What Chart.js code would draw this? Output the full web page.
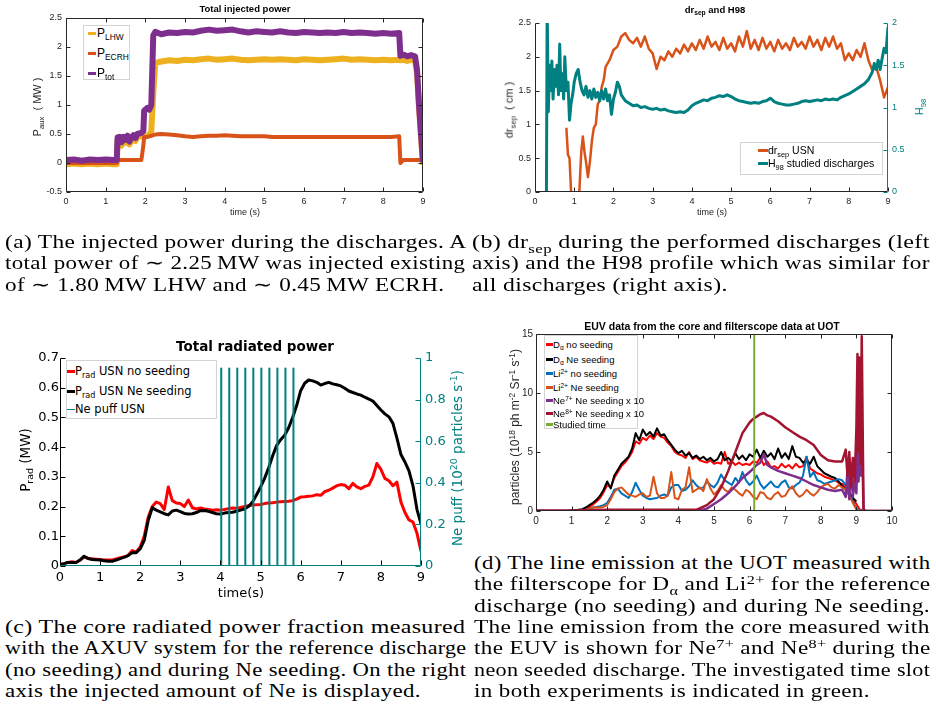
<!DOCTYPE html>
<html lang="en">
<head>
<meta charset="UTF-8">
<title>Discharge overview</title>
<script src="https://cdn.jsdelivr.net/npm/chart.js"></script>
<style>
  html, body { margin: 0; padding: 0; background: #fff; }
  #fig { position: relative; width: 936px; height: 709px; overflow: hidden; font-family: "Liberation Sans", Arial, sans-serif; color: #262626; }
  .pane { position: absolute; }
  .lbl { position: absolute; white-space: nowrap; transform: translate(-50%, -50%); line-height: 1.15; }
  .rot { transform: translate(-50%, -50%) rotate(-90deg); }
  sub, sup { font-size: 70%; line-height: 0; position: relative; vertical-align: baseline; }
  sub { top: 0.35em; }
  sup { top: -0.5em; }
  .legbox { position: absolute; border: 1px solid #d4d4d4; background: #fff; box-sizing: border-box; }
  .legrow { position: absolute; white-space: nowrap; line-height: 1.15; transform: translateY(-50%); color: #000; }
  .legline { position: absolute; }
  .cap { position: absolute; font-family: "Liberation Serif", "Times New Roman", serif; font-size: 19px; letter-spacing: 0.3px; color: #000; }
  .cap div { height: 21.33px; line-height: 21.33px; white-space: nowrap; width: max-content; transform-origin: 0 0; }
</style>
</head>
<body>
<div id="fig">
  <div class="pane" style="left:0;top:0"><canvas id="cA" width="470" height="222"></canvas></div>
  <div class="pane" style="left:470px;top:0"><canvas id="cB" width="466" height="222"></canvas></div>
  <div class="pane" style="left:0;top:300px"><canvas id="cC" width="470" height="300"></canvas></div>
  <div class="pane" style="left:470px;top:300px"><canvas id="cD" width="466" height="235"></canvas></div>

  <!-- titles and axis labels -->
  <div class="lbl" style="left:245px;top:9px;font-weight:bold;font-size:9.5px;color:#000">Total injected power</div>
  <div class="lbl rot" style="left:37px;top:107px;font-size:11px">P<sub>aux</sub> &nbsp;( MW )</div>
  <div class="lbl" style="left:245px;top:212px;font-size:9px">time (s)</div>

  <div class="lbl" style="left:715px;top:10px;font-weight:bold;font-size:9.5px;color:#000">dr<sub>sep</sub> and H98</div>
  <div class="lbl rot" style="left:509px;top:110px;font-size:11px">dr<sub>sep</sub> &nbsp;( cm )</div>
  <div class="lbl rot" style="left:919px;top:107px;font-size:11px;color:#008080">H<sub>98</sub></div>
  <div class="lbl" style="left:712px;top:212px;font-size:9px">time (s)</div>

  <div class="lbl" style="left:255px;top:347px;font-family:'DejaVu Sans';font-weight:bold;font-size:13.5px;color:#000">Total radiated power</div>
  <div class="lbl rot" style="left:26px;top:460px;font-family:'DejaVu Sans';font-size:13.5px;color:#000">P<sub>rad</sub> (MW)</div>
  <div class="lbl rot" style="left:458px;top:458px;font-family:'DejaVu Sans';font-size:13.5px;color:#008080">Ne puff (10<sup>20</sup> particles s<sup>-1</sup>)</div>
  <div class="lbl" style="left:241px;top:593px;font-family:'DejaVu Sans';font-size:13px;color:#000">time(s)</div>

  <div class="lbl" style="left:712px;top:326px;font-weight:bold;font-size:10.5px;color:#000">EUV data from the core and filterscope data at UOT</div>
  <div class="lbl rot" style="left:516px;top:427px;font-size:12px">particles (10<sup>18</sup> ph m<sup>-2</sup> Sr<sup>-1</sup> s<sup>-1</sup>)</div>

  <!-- captions: every full line is stretched to the column width -->
  <div class="cap" data-w="461" style="left:5px;top:231px">
    <div>(a) The injected power during the discharges. A</div>
    <div>total power of ∼ 2.25&#8201;MW was injected existing</div>
    <div class="last">of ∼ 1.80&#8201;MW LHW and ∼ 0.45&#8201;MW ECRH.</div>
  </div>
  <div class="cap" data-w="458" style="left:472px;top:231px">
    <div>(b) dr<sub>sep</sub> during the performed discharges (left</div>
    <div>axis) and the H98 profile which was similar for</div>
    <div class="last">all discharges (right axis).</div>
  </div>
  <div class="cap" data-w="461" style="left:5px;top:616px">
    <div>(c) The core radiated power fraction measured</div>
    <div>with the AXUV system for the reference discharge</div>
    <div>(no seeding) and during Ne seeding. On the right</div>
    <div class="last">axis the injected amount of Ne is displayed.</div>
  </div>
  <div class="cap" data-w="456" style="left:474px;top:552px">
    <div>(d) The line emission at the UOT measured with</div>
    <div>the filterscope for D<sub>α</sub> and Li<sup>2+</sup> for the reference</div>
    <div>discharge (no seeding) and during Ne seeding.</div>
    <div>The line emission from the core measured with</div>
    <div>the EUV is shown for Ne<sup>7+</sup> and Ne<sup>8+</sup> during the</div>
    <div>neon seeded discharge. The investigated time slot</div>
    <div class="last">in both experiments is indicated in green.</div>
  </div>
</div>

<script>
// ---------- (a) total injected power ----------
const aTime = [0,0.2,0.4,0.6,0.8,1.0,1.2,1.28,1.3,1.35,1.4,1.45,1.5,1.55,1.6,1.65,1.7,1.75,1.8,1.9,1.95,1.97,2.05,2.1,2.15,2.2,2.25,
  2.4,2.6,2.8,3.0,3.2,3.4,3.6,3.8,4.0,4.2,4.4,4.6,4.8,5.0,5.2,5.4,5.6,5.8,6.0,6.2,6.4,6.6,6.8,7.0,7.2,7.4,7.6,7.8,8.0,8.2,8.4,
  8.43,8.5,8.6,8.7,8.8,8.85,8.9,8.95,9.0];
const aLHW = [-0.02,-0.01,-0.02,-0.01,-0.02,-0.01,-0.02,-0.02,0.38,0.40,0.30,0.40,0.35,0.42,0.32,0.39,0.43,0.38,0.45,0.46,0.48,0.45,0.47,0.48,0.55,1.20,1.72,
  1.75,1.77,1.76,1.78,1.77,1.79,1.80,1.78,1.79,1.80,1.78,1.77,1.78,1.79,1.78,1.79,1.78,1.77,1.79,1.78,1.77,1.78,1.79,1.80,1.78,1.79,1.78,1.77,1.78,1.77,1.78,
  1.77,1.78,1.76,1.78,1.76,1.55,0.95,0.45,-0.03];
const aECRH = [0,0,0,0,0,0,0,0,0.05,0.05,0.05,0.05,0.05,0.05,0.05,0.05,0.05,0.05,0.05,0.05,0.30,0.45,0.45,0.46,0.47,0.48,0.49,
  0.50,0.49,0.48,0.46,0.45,0.46,0.47,0.47,0.48,0.47,0.46,0.46,0.46,0.46,0.45,0.45,0.45,0.45,0.45,0.45,0.45,0.45,0.45,0.45,0.45,0.45,0.45,0.45,0.45,0.45,0.46,
  0.0,0.05,0.05,0.05,0.05,0.05,0.05,0.05,0.0];
const aTot = [0.05,0.06,0.04,0.06,0.05,0.06,0.05,0.05,0.44,0.45,0.36,0.45,0.40,0.47,0.37,0.44,0.48,0.43,0.50,0.52,0.55,0.90,0.95,0.92,1.00,2.20,2.26,
  2.22,2.25,2.24,2.26,2.25,2.28,2.30,2.28,2.29,2.30,2.27,2.25,2.27,2.26,2.25,2.27,2.25,2.24,2.26,2.25,2.24,2.25,2.24,2.26,2.24,2.25,2.24,2.23,2.24,2.23,2.24,
  1.85,1.87,1.84,1.86,1.84,1.60,1.00,0.50,0.02];
const aLabels = ['P<sub>LHW</sub>', 'P<sub>ECRH</sub>', 'P<sub>tot</sub>'];

// ---------- (b) dr_sep and H98 ----------
const bSepTime = [0.8,0.84,0.88,0.92,0.95,1.1,1.13,1.18,1.22,1.26,1.3,1.35,1.4,1.45,1.5,1.55,1.6,1.65,1.7,1.75,1.8,1.9,2.0,2.1,2.2,2.3,
  2.4,2.5,2.6,2.7,2.8,2.9,3.0,3.1,3.2,3.3,3.4,3.5,3.6,3.7,3.8,3.9,4.0,4.1,4.2,4.3,4.4,4.5,4.6,4.7,4.8,4.9,5.0,5.1,5.2,5.3,5.4,5.5,5.6,5.7,5.8,5.9,
  6.0,6.1,6.2,6.3,6.4,6.5,6.6,6.7,6.8,6.9,7.0,7.1,7.2,7.3,7.4,7.5,7.6,7.7,7.8,7.9,8.0,8.1,8.2,8.3,8.4,8.5,8.6,8.7,8.8,8.9,9.0];
const bSep = [0.95,0.55,0.5,0.0,-0.3,-0.3,0.0,0.6,0.82,0.6,0.45,0.22,0.45,0.75,0.95,1.0,1.3,1.35,1.55,1.65,1.85,1.95,2.1,2.15,2.3,2.35,
  2.25,2.2,2.28,2.15,2.3,2.12,2.05,1.82,2.0,1.95,2.08,2.0,2.12,2.05,2.18,2.08,2.2,2.1,2.25,2.12,2.3,2.15,2.22,2.1,2.28,2.12,2.2,2.08,2.3,2.15,2.38,2.12,2.25,2.1,2.28,2.12,
  2.22,2.08,2.25,2.12,2.2,2.1,2.28,2.15,2.22,2.12,2.3,2.15,2.25,2.1,2.28,2.15,2.3,2.12,2.2,1.95,2.05,1.95,2.1,2.0,2.2,1.95,1.8,1.85,1.65,1.4,1.55];
const bHTime = [0.29,0.31,0.34,0.37,0.4,0.43,0.46,0.5,0.53,0.56,0.6,0.63,0.66,0.7,0.73,0.76,0.8,0.84,0.88,0.92,0.96,1.0,1.05,1.1,1.15,1.2,1.25,1.3,1.35,1.4,
  1.45,1.5,1.55,1.6,1.65,1.7,1.75,1.8,1.85,1.9,1.95,2.0,2.05,2.1,2.15,2.2,
  2.3,2.4,2.5,2.6,2.7,2.8,2.9,3.0,3.1,3.2,3.3,3.4,3.5,3.6,3.7,3.8,3.9,4.0,4.1,4.2,4.3,4.4,4.5,4.6,4.7,4.8,4.9,5.0,5.1,5.2,5.3,5.4,5.5,5.6,5.7,5.8,5.9,
  6.0,6.1,6.2,6.3,6.4,6.5,6.6,6.7,6.8,6.9,7.0,7.1,7.2,7.3,7.4,7.5,7.6,7.7,7.8,7.9,8.0,8.1,8.2,8.3,8.4,8.5,
  8.6,8.65,8.7,8.75,8.8,8.85,8.9,8.95,9.0];
const bH98 = [-0.2,2.2,0.95,1.5,1.2,1.55,1.1,1.45,1.25,1.5,1.15,1.75,1.2,1.4,1.1,1.6,1.2,1.3,0.85,1.05,1.15,1.3,1.4,1.45,1.3,1.2,1.15,1.25,1.12,1.2,
  1.1,1.22,1.12,1.18,1.08,1.2,1.1,1.22,1.08,1.15,0.92,1.1,1.18,1.3,1.25,1.15,
  1.08,1.05,1.02,1.03,1.0,1.01,0.99,0.98,0.99,0.97,0.98,0.96,0.95,0.94,0.95,0.94,0.97,1.02,1.05,1.07,1.09,1.08,1.11,1.12,1.14,1.13,1.15,1.13,1.1,1.08,1.07,1.06,1.05,1.06,1.05,1.07,1.08,
  1.11,1.07,1.05,1.04,1.03,1.03,1.04,1.05,1.07,1.08,1.07,1.08,1.09,1.08,1.1,1.09,1.1,1.09,1.12,1.14,1.16,1.19,1.22,1.25,1.28,1.33,
  1.42,1.52,1.45,1.56,1.45,1.58,1.7,1.65,1.95];
const bLabels = ['dr<sub>sep</sub> USN', 'H<sub>98</sub> studied discharges'];

// ---------- (c) total radiated power ----------
const cTime = [0,0.1,0.2,0.3,0.4,0.5,0.6,0.7,0.8,0.9,1.0,1.1,1.2,1.3,1.4,1.5,1.6,1.7,1.8,1.9,2.0,2.1,2.2,2.3,2.4,2.5,2.6,2.7,2.8,2.9,
  3.0,3.1,3.2,3.3,3.4,3.5,3.6,3.7,3.8,3.9,4.0,4.1,4.2,4.3,4.4,4.5,4.6,4.7,4.8,4.9,5.0,5.1,5.2,5.3,5.4,5.5,5.6,5.7,5.8,5.9,
  6.0,6.1,6.2,6.3,6.4,6.5,6.6,6.7,6.8,6.9,7.0,7.1,7.2,7.3,7.4,7.5,7.6,7.7,7.8,7.9,8.0,8.1,8.2,8.3,8.4,8.5,8.6,8.7,8.8,8.9,9.0];
const cNoSeed = [0.005,0.008,0.012,0.014,0.012,0.02,0.03,0.026,0.024,0.023,0.022,0.02,0.02,0.02,0.024,0.028,0.03,0.036,0.052,0.047,
  0.064,0.1,0.165,0.2,0.215,0.21,0.19,0.266,0.22,0.212,0.21,0.2,0.222,0.196,0.192,0.195,0.192,0.19,0.188,0.189,
  0.188,0.19,0.193,0.195,0.194,0.197,0.2,0.203,0.205,0.206,0.207,0.21,0.212,0.213,0.215,0.216,0.217,0.218,0.22,0.225,
  0.232,0.233,0.235,0.236,0.24,0.238,0.25,0.255,0.262,0.27,0.274,0.272,0.26,0.278,0.266,0.26,0.268,0.272,0.3,0.345,
  0.325,0.295,0.287,0.27,0.282,0.215,0.18,0.155,0.148,0.11,0.05];
const cNeSeed = [0.005,0.008,0.012,0.012,0.012,0.02,0.033,0.025,0.022,0.021,0.02,0.018,0.016,0.016,0.02,0.025,0.03,0.035,0.045,0.045,
  0.058,0.086,0.154,0.196,0.188,0.182,0.176,0.172,0.185,0.188,0.183,0.177,0.175,0.176,0.18,0.186,0.187,0.184,0.18,0.176,
  0.175,0.178,0.18,0.181,0.184,0.188,0.192,0.2,0.215,0.24,0.265,0.295,0.33,0.37,0.405,0.425,0.44,0.465,0.5,0.54,
  0.59,0.615,0.626,0.623,0.618,0.609,0.614,0.618,0.613,0.61,0.606,0.598,0.589,0.584,0.579,0.575,0.568,0.562,0.555,0.54,
  0.525,0.512,0.502,0.48,0.43,0.375,0.35,0.32,0.27,0.19,0.142];
const cPuffTimes = [4.02,4.22,4.42,4.62,4.82,5.02,5.22,5.42,5.62,5.82];
const cPuffRate = 0.95;
const cLabels = ['P<sub>rad</sub> USN no seeding', 'P<sub>rad</sub> USN Ne seeding', 'Ne puff USN'];

// ---------- (d) EUV and filterscope ----------
const dTime = [0,0.1,0.2,0.3,0.4,0.5,0.6,0.7,0.8,0.9,1.0,1.1,1.2,1.3,1.4,1.5,1.6,1.7,1.8,1.9,2.0,2.1,2.2,2.3,2.4,2.5,2.6,2.7,2.8,2.9,
  3.0,3.1,3.2,3.3,3.4,3.5,3.6,3.7,3.8,3.9,4.0,4.1,4.2,4.3,4.4,4.5,4.6,4.7,4.8,4.9,5.0,5.1,5.2,5.3,5.4,5.5,5.6,5.7,5.8,5.9,
  6.0,6.1,6.2,6.3,6.4,6.5,6.6,6.7,6.8,6.9,7.0,7.1,7.2,7.3,7.4,7.5,7.6,7.7,7.8,7.9,8.0,8.1,8.2,8.3,8.4,8.5,8.6,8.7,8.8,8.9,
  9.0,9.1,9.2,10];
const dDaNo = [0,0,0,0,0,0,0,0,0,0,0.02, 0.03,0.06,0.1,0.2,0.35,0.55,0.8,1.1,1.6,
  2.2,2.0,2.8,3.3,3.8,4.1,4.5,5.0,5.9,5.7, 6.2,6.0,6.4,6.1,6.6,6.3,6.2,5.8,5.5,5.0,
  4.8,4.7,4.5,5.0,4.4,4.6,4.3,4.2,4.1,4.3, 4.0,4.1,4.0,5.0,4.0,4.2,3.9,4.1,3.9,4.0,
  3.9,4.2,4.1,4.5,3.9,4.2,3.7,3.8,3.6,4.0, 3.7,3.9,3.6,4.0,3.7,3.8,4.6,3.6,3.4,3.2,
  3.1,2.9,2.8,2.7,2.6,2.4,2.3,2.0,1.6,1.0, 0.6,0.1,0,null];
const dDaNe = [0,0,0,0,0,0,0,0,0,0,0.05, 0.05,0.1,0.15,0.3,0.5,0.7,0.95,1.3,1.8,
  2.5,1.9,3.0,3.5,4.0,4.3,4.6,5.3,6.6,6.0, 6.9,6.4,6.7,6.3,7.0,6.4,6.5,6.0,5.6,5.2,
  4.9,5.1,4.7,4.9,4.5,4.7,4.4,4.6,4.3,4.5, 4.2,4.4,5.0,4.3,4.5,4.2,4.9,4.4,4.7,4.3,
  4.8,4.6,5.2,4.5,5.1,4.6,4.9,4.4,5.3,4.5, 4.9,4.4,5.5,4.6,4.5,4.1,4.3,4.0,4.6,3.8,
  3.5,3.2,3.05,2.9,2.8,2.5,2.1,1.8,1.5,1.1, 0.8,null,null,null];
const dLiNo = [0,0,0,0,0,0,0,0,0,0,0, 0,0,0.05,0.1,0.2,0.3,0.35,0.4,0.5,
  0.7,1.2,1.8,1.9,1.5,1.3,1.1,1.6,2.4,1.8, 1.3,1.1,1.0,1.05,1.1,1.3,1.4,1.3,2.0,2.2,
  2.2,1.7,1.8,2.1,2.6,2.2,1.9,2.0,2.5,2.2, 2.0,2.4,3.1,2.6,2.4,2.2,2.8,2.4,3.3,2.6,
  2.2,2.5,3.0,2.3,1.9,2.2,2.5,2.1,2.0,2.4, 2.6,2.0,1.9,2.2,2.4,3.0,4.6,2.9,3.3,2.6,
  2.5,2.3,2.4,2.5,2.6,2.7,2.6,2.2,1.4,0.8, 0.2,0.05,0,0];
const dLiNe = [0,0,0,0,0,0,0,0,0,0,0, 0,0,0.05,0.1,0.2,0.3,0.3,0.3,0.35,
  0.5,1.0,1.6,1.9,2.0,1.7,1.4,1.3,1.2,1.4, 1.5,1.2,1.3,2.9,1.5,1.1,1.1,1.3,3.3,1.1,
  1.0,1.8,2.0,3.7,1.6,1.8,2.0,1.7,2.7,1.9, 1.4,1.7,2.2,1.8,1.6,2.0,1.8,1.5,1.3,1.8,
  1.6,1.2,1.0,1.6,1.5,1.1,1.0,1.4,1.6,1.2, 1.3,1.8,2.1,1.5,1.2,1.4,1.8,1.5,1.3,1.6,
  2.0,2.2,2.3,2.0,1.9,2.2,2.0,1.8,1.3,0.7, 0.1,0,0,0];
const dNeTime = [0,1,2,3,4,4.5,4.8,5.0,5.2,5.4,5.6,5.8,6.0,6.1,6.2,6.3,6.4,6.5,6.6,6.8,7.0,7.2,7.4,7.6,7.8,8.0,8.2,8.4,8.6,
  8.7,8.75,8.8,8.85,8.9,8.95,9.0,9.03,9.06,9.09,9.12,9.15,9.18,9.2,9.25,10];
const dNe7 = [0,0,0,0,0,0,0.2,0.6,1.0,1.5,2.1,2.8,3.3,3.6,3.9,4.1,4.8,3.9,3.7,3.4,3.2,3.0,2.8,2.5,2.2,2.0,1.8,1.7,1.8,
  1.2,3.5,1.0,4.0,1.2,2.5,1.5,5.5,2.5,6.0,3.0,6.8,3.0,0,0,0];
const dNe8 = [0.05,0.05,0.1,0.1,0.1,0.1,0.5,1.0,2.0,3.4,5.0,6.6,7.5,7.8,8.0,8.2,8.3,8.1,8.0,7.6,7.1,6.7,6.3,6.0,5.6,4.75,4.3,4.2,4.2,
  5.2,3.0,5.0,2.0,4.5,2.5,7.0,13.3,5.0,13.0,4.0,14.8,6.0,0.2,0,0];
const dStudied = 6.13;
const dLabels = ['D<sub>α</sub> no seeding', 'D<sub>α</sub> Ne seeding', 'Li<sup>2+</sup> no seeding', 'Li<sup>2+</sup> Ne seeding',
  'Ne<sup>7+</sup> Ne seeding x 10', 'Ne<sup>8+</sup> Ne seeding x 10', 'Studied time'];

// ---------- helpers ----------
const C = { lhw: '#EDB120', ecrh: '#D95319', tot: '#7E2F8E', teal: '#008080', red: '#FF0000', black: '#000000',
  blue: '#0072BD', orange: '#D95319', purple: '#7E2F8E', wine: '#A2142F', green: '#77AC30', ax: '#262626' };
const SANS = "'Liberation Sans', Arial, sans-serif";
const VERD = "'DejaVu Sans', Verdana, sans-serif";

function xy(t, v) { return t.map((x, i) => ({ x: x, y: v[i] })); }
function plain(s) { return s.replace(/<[^>]+>/g, ''); }
const fmt = v => String(+(+v).toFixed(2));

function line(label, data, color, width, order, yAxisID) {
  return { label: plain(label), data: data, borderColor: color, backgroundColor: color, borderWidth: width,
    pointRadius: 0, fill: false, tension: 0, order: order, yAxisID: yAxisID || 'y', borderJoinStyle: 'round' };
}

function axis(o) {
  return {
    type: 'linear', position: o.pos, min: o.min, max: o.max,
    grid: { display: false, drawTicks: false },
    border: { display: false },
    ticks: { stepSize: o.step, color: o.color, padding: o.pad, font: o.font, callback: fmt, autoSkip: false, maxRotation: 0 },
    afterFit: s => {
      if (s.isHorizontal()) s.height = o.size; else s.width = o.size;
      s.paddingLeft = 0; s.paddingRight = 0; s.paddingTop = 0; s.paddingBottom = 0;
    }
  };
}

function base(pad, scales, frame) {
  return {
    responsive: false, animation: false, events: [], devicePixelRatio: 1,
    layout: { padding: pad },
    plugins: { legend: { display: false }, title: { display: false }, tooltip: { enabled: false }, frame: frame },
    scales: scales
  };
}

// MATLAB style axes: inward ticks, optional box
const framePlugin = {
  id: 'frame',
  afterDatasetsDraw(chart, args, o) {
    const ctx = chart.ctx, a = chart.chartArea, L = o.tick || 4;
    const l = Math.round(a.left) + 0.5, r = Math.round(a.right) - 0.5;
    const t = Math.round(a.top) + 0.5, b = Math.round(a.bottom) - 0.5;
    ctx.save();
    ctx.lineWidth = 1;
    for (const id in chart.scales) {
      const s = chart.scales[id], pts = [];
      s.ticks.forEach(k => {
        const p = Math.round(s.getPixelForValue(k.value)) + 0.5;
        if (s.isHorizontal()) {
          pts.push([p, b, p, b - L]);
          if (o.box) pts.push([p, t, p, t + L]);
        } else if (s.position === 'left') {
          pts.push([l, p, l + L, p]);
          if (o.box) pts.push([r, p, r - L, p]);
        } else {
          pts.push([r, p, r - L, p]);
        }
      });
      ctx.strokeStyle = o.colors[id];
      ctx.beginPath();
      pts.forEach(q => { ctx.moveTo(q[0], q[1]); ctx.lineTo(q[2], q[3]); });
      ctx.stroke();
      ctx.strokeStyle = (o.lines && o.lines[id]) || o.colors[id];
      ctx.beginPath();
      if (s.isHorizontal()) {
        ctx.moveTo(l, b); ctx.lineTo(r, b);
        if (o.box) { ctx.moveTo(l, t); ctx.lineTo(r, t); }
      } else if (s.position === 'left') {
        ctx.moveTo(l, t); ctx.lineTo(l, b);
        if (o.box) { ctx.moveTo(r, t); ctx.lineTo(r, b); }
      } else {
        ctx.moveTo(r, t); ctx.lineTo(r, b);
      }
      ctx.stroke();
    }
    ctx.restore();
  }
};
Chart.register(framePlugin);

// html legend (needed for sub/superscripts), drawn from the chart datasets
function legend(chart, labels, spec) {
  const fig = document.getElementById('fig');
  const box = document.createElement('div');
  box.className = 'legbox';
  Object.assign(box.style, { left: spec.box[0] + 'px', top: spec.box[1] + 'px', width: spec.box[2] + 'px', height: spec.box[3] + 'px' });
  fig.appendChild(box);
  chart.data.datasets.forEach((ds, i) => {
    const cy = spec.rows[i];
    const w = spec.widths ? spec.widths[i] : 3;
    const ln = document.createElement('div');
    ln.className = 'legline';
    Object.assign(ln.style, { left: spec.sx + 'px', width: spec.sw + 'px', top: (cy - w / 2) + 'px', height: w + 'px', background: ds.borderColor });
    fig.appendChild(ln);
    const tx = document.createElement('div');
    tx.className = 'legrow';
    tx.innerHTML = labels[i];
    Object.assign(tx.style, { left: spec.tx + 'px', top: cy + 'px', font: spec.font });
    fig.appendChild(tx);
  });
}

// stretch caption lines so they fill their column like the justified LaTeX text
function fitCaptions() {
  document.querySelectorAll('.cap').forEach(cap => {
    const w = +cap.dataset.w;
    const lines = Array.from(cap.children);
    let sum = 0, n = 0;
    lines.forEach(d => {
      if (d.classList.contains('last')) return;
      const s = w / d.offsetWidth;
      d.style.transform = 'scaleX(' + s + ')';
      sum += s; n++;
    });
    const avg = n ? sum / n : 1;
    lines.forEach(d => { if (d.classList.contains('last')) d.style.transform = 'scaleX(' + avg + ')'; });
  });
}
fitCaptions();

const F9 = { family: SANS, size: 9 };

// ---------- chart (a) ----------
const chartA = new Chart(document.getElementById('cA'), {
  type: 'line',
  data: { datasets: [
    line(aLabels[0], xy(aTime, aLHW), C.lhw, 6, 2),
    line(aLabels[1], xy(aTime, aECRH), C.ecrh, 4, 1),
    line(aLabels[2], xy(aTime, aTot), C.tot, 6, 0)
  ] },
  options: base({ left: 0, top: 18, right: 47, bottom: 0 }, {
    x: axis({ pos: 'bottom', min: 0, max: 9, step: 1, size: 30, pad: 4, color: C.ax, font: F9 }),
    y: axis({ pos: 'left', min: -0.5, max: 2.5, step: 0.5, size: 66, pad: 4, color: C.ax, font: F9 })
  }, { box: true, colors: { x: C.ax, y: C.ax } })
});
legend(chartA, aLabels, { box: [83, 25, 47, 55], rows: [33, 53, 73], sx: 88, sw: 8, tx: 97, font: '12px ' + SANS });

// ---------- chart (b) ----------
const chartB = new Chart(document.getElementById('cB'), {
  type: 'line',
  data: { datasets: [
    line(bLabels[0], xy(bSepTime, bSep), C.ecrh, 2.5, 1, 'y'),
    line(bLabels[1], xy(bHTime, bH98), C.teal, 3, 0, 'y2')
  ] },
  options: base({ left: 0, top: 23, right: 0, bottom: 0 }, {
    x: axis({ pos: 'bottom', min: 0, max: 9, step: 1, size: 30, pad: 4, color: C.ax, font: F9 }),
    y: axis({ pos: 'left', min: 0, max: 2.5, step: 0.5, size: 65, pad: 4, color: C.ax, font: F9 }),
    y2: axis({ pos: 'right', min: 0, max: 2, step: 0.5, size: 48, pad: 4, color: C.teal, font: F9 })
  }, { box: false, colors: { x: C.ax, y: C.ax, y2: C.teal } })
});
legend(chartB, bLabels, { box: [740, 142, 143, 33], rows: [150, 163], sx: 758, sw: 10, tx: 768, font: '10.5px ' + SANS });

// ---------- chart (c) ----------
const puffPts = [];
cPuffTimes.forEach(t => { puffPts.push({ x: t, y: 0 }, { x: t, y: cPuffRate }, { x: t, y: 0 }); });
const chartC = new Chart(document.getElementById('cC'), {
  type: 'line',
  data: { datasets: [
    line(cLabels[0], xy(cTime, cNoSeed), C.red, 3, 2, 'y'),
    line(cLabels[1], xy(cTime, cNeSeed), C.black, 3, 1, 'y'),
    line(cLabels[2], puffPts, C.teal, 2, 0, 'y2')
  ] },
  options: base({ left: 0, top: 58, right: 0, bottom: 0 }, {
    x: axis({ pos: 'bottom', min: 0, max: 9, step: 1, size: 34, pad: 4, color: '#000', font: { family: VERD, size: 13 } }),
    y: axis({ pos: 'left', min: 0, max: 0.7, step: 0.1, size: 60, pad: 1, color: '#000', font: { family: VERD, size: 13 } }),
    y2: axis({ pos: 'right', min: 0, max: 1, step: 0.2, size: 49, pad: 4, color: C.teal, font: { family: VERD, size: 13 } })
  }, { box: false, tick: 5, colors: { x: '#000', y: '#000', y2: C.teal }, lines: { x: C.teal } })
});
legend(chartC, cLabels, { box: [66, 360, 151, 59], rows: [371, 391, 409], widths: [3, 3, 1], sx: 67, sw: 8, tx: 75, font: '11.5px ' + VERD });

// ---------- chart (d) ----------
const dYMin = 0, dYMax = 15;
const chartD = new Chart(document.getElementById('cD'), {
  type: 'line',
  data: { datasets: [
    line(dLabels[0], xy(dTime, dDaNo), C.red, 2, 6),
    line(dLabels[1], xy(dTime, dDaNe), C.black, 2, 5),
    line(dLabels[2], xy(dTime, dLiNo), C.blue, 2, 4),
    line(dLabels[3], xy(dTime, dLiNe), C.orange, 2, 3),
    line(dLabels[4], xy(dNeTime, dNe7), C.purple, 2.5, 2),
    line(dLabels[5], xy(dNeTime, dNe8), C.wine, 2.5, 1),
    line(dLabels[6], [{ x: dStudied, y: dYMin }, { x: dStudied, y: dYMax }], C.green, 2, 0)
  ] },
  options: base({ left: 0, top: 34, right: 44, bottom: 0 }, {
    x: axis({ pos: 'bottom', min: 0, max: 10, step: 1, size: 24, pad: 4, color: C.ax, font: { family: SANS, size: 10 } }),
    y: axis({ pos: 'left', min: dYMin, max: dYMax, step: 5, size: 66, pad: 3, color: C.ax, font: { family: SANS, size: 10 } })
  }, { box: true, colors: { x: C.ax, y: C.ax } })
});
legend(chartD, dLabels, { box: [544, 335, 94, 94], rows: [344, 359, 373, 387, 400, 413, 424], sx: 546, sw: 7, tx: 553, font: '9.5px ' + SANS });
</script>
</body>
</html>
